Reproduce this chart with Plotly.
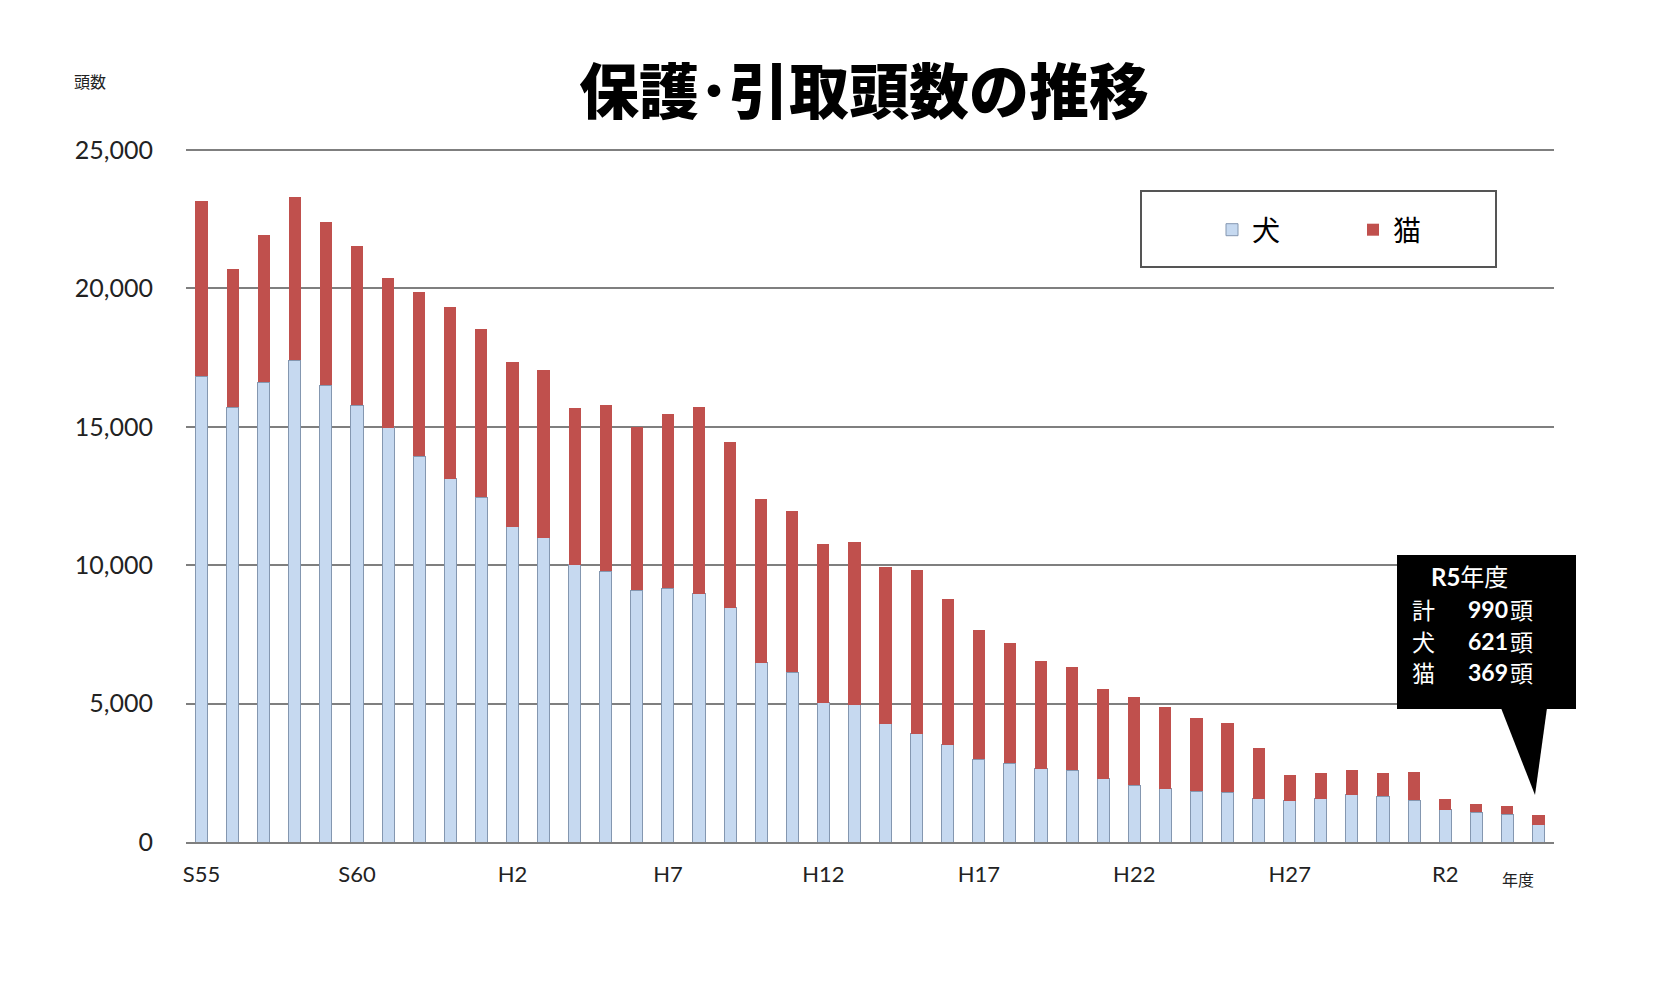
import plotly.graph_objects as go

# ---- data ----
years = ["S55", "S56", "S57", "S58", "S59", "S60", "S61", "S62", "S63",
         "H1", "H2", "H3", "H4", "H5", "H6", "H7", "H8", "H9", "H10",
         "H11", "H12", "H13", "H14", "H15", "H16", "H17", "H18", "H19", "H20",
         "H21", "H22", "H23", "H24", "H25", "H26", "H27", "H28", "H29", "H30",
         "R1", "R2", "R3", "R4", "R5"]
dogs = [16830, 15700, 16620, 17410, 16500, 15780, 14960, 13940, 13130,
        12460, 11390, 11000, 10010, 9780, 9090, 9160, 8975, 8460, 6470,
        6125, 5030, 4960, 4270, 3915, 3520, 2990, 2850, 2640, 2595,
        2285, 2045, 1925, 1840, 1800, 1570, 1485, 1570, 1715, 1650,
        1505, 1165, 1080, 1000, 621]
cats = [6340, 4990, 5310, 5890, 5920, 5760, 5430, 5950, 6200,
        6060, 5940, 6050, 5675, 6000, 5910, 6310, 6745, 5980, 5910,
        5840, 5735, 5895, 5650, 5915, 5255, 4685, 4330, 3915, 3745,
        3250, 3200, 2950, 2645, 2510, 1840, 920, 910, 870, 830,
        1025, 405, 305, 300, 369]
tick_years = ["S55", "S60", "H2", "H7", "H12", "H17", "H22", "H27", "R2"]
y_ticks = [0, 5000, 10000, 15000, 20000, 25000]
series_names = ["犬", "猫"]
title_text = "保護･引取頭数の推移"
y_unit = "頭数"
x_unit = "年度"

# ---- layout geometry (pixels) ----
W, H = 1661, 986
L, R, T, B = 186, 1554, 149, 842


def px(p):
    return (p - L) / (R - L)


def py(p):
    return (B - p) / (B - T)


CJK = "Noto Sans CJK JP"
NUM = "Lato, Noto Sans CJK JP"

fig = go.Figure()
fig.add_trace(go.Bar(
    x=years, y=dogs, name=series_names[0],
    marker=dict(color="#c6d9f0", line=dict(color="#8497b0", width=1)),
))
fig.add_trace(go.Bar(
    x=years, y=cats, name=series_names[1],
    marker=dict(color="#c0504d", line=dict(color="#c0504d", width=0)),
))

shapes = [
    # legend frame
    dict(type="rect", xref="paper", yref="paper",
         x0=px(1141), x1=px(1496), y0=py(267), y1=py(191),
         line=dict(color="#555555", width=2), fillcolor="rgba(0,0,0,0)"),
    # callout box
    dict(type="rect", xref="paper", yref="paper",
         x0=px(1397), x1=px(1576), y0=py(709), y1=py(555),
         line=dict(color="black", width=0), fillcolor="black"),
    # callout pointer
    dict(type="path", xref="paper", yref="paper",
         path=f"M {px(1501)},{py(708)} L {px(1547)},{py(708)} L {px(1535)},{py(795)} Z",
         line=dict(color="black", width=0), fillcolor="black"),
]

total_last = dogs[-1] + cats[-1]
rows = [("計", total_last), (series_names[0], dogs[-1]), (series_names[1], cats[-1])]
row_y = [609, 641, 672]

annotations = [
    dict(text=y_unit, xref="paper", yref="paper", x=px(72), y=py(81),
         xanchor="left", yanchor="middle", showarrow=False,
         font=dict(family=CJK, size=16, color="#222")),
    dict(text=x_unit, xref="paper", yref="paper", x=px(1518), y=py(879),
         xanchor="center", yanchor="middle", showarrow=False,
         font=dict(family=CJK, size=16, color="#222")),
    dict(text=f"<b>{years[-1]}</b>年度", xref="paper", yref="paper",
         x=px(1429), y=py(576), xanchor="left", yanchor="middle", showarrow=False,
         font=dict(family=NUM, size=24, color="white")),
]
for (lab, val), yy in zip(rows, row_y):
    annotations.append(dict(text=lab, xref="paper", yref="paper", x=px(1410), y=py(yy),
                            xanchor="left", yanchor="middle", showarrow=False,
                            font=dict(family=CJK, size=23, color="white")))
    annotations.append(dict(text=f"<b>{val:,}</b>", xref="paper", yref="paper",
                            x=px(1510), y=py(yy), xanchor="right", yanchor="middle",
                            showarrow=False, font=dict(family=NUM, size=23, color="white")))
    annotations.append(dict(text="頭", xref="paper", yref="paper", x=px(1508), y=py(yy),
                            xanchor="left", yanchor="middle", showarrow=False,
                            font=dict(family=CJK, size=23, color="white")))

fig.update_layout(
    width=W, height=H,
    margin=dict(l=L, r=W - R, t=T, b=H - B, pad=0),
    paper_bgcolor="white", plot_bgcolor="white",
    barmode="stack", bargap=0.61,
    title=dict(text=title_text, x=864 / W, y=1 - 93 / H, xref="container", yref="container",
               xanchor="center", yanchor="middle",
               font=dict(family=CJK, size=60, color="black", weight=900)),
    showlegend=True,
    legend=dict(orientation="h", x=px(1212), y=py(230), xanchor="left", yanchor="middle",
                bgcolor="rgba(0,0,0,0)", borderwidth=0, traceorder="normal",
                entrywidth=96, entrywidthmode="pixels",
                font=dict(family=CJK, size=28, color="black")),
    xaxis=dict(type="category", tickmode="array", tickvals=tick_years, ticktext=tick_years,
               showgrid=False, showline=True, linecolor="#7f7f7f", linewidth=2,
               ticks="", ticklabelstandoff=12,
               tickfont=dict(family=NUM, size=22, color="#222")),
    yaxis=dict(range=[0, 25040], tickmode="array", tickvals=y_ticks, tickformat=",",
               showgrid=True, gridcolor="#7f7f7f", gridwidth=1.5, zeroline=False,
               showline=False, ticks="", ticklabelstandoff=32,
               tickfont=dict(family=NUM, size=25, color="#222")),
    shapes=shapes, annotations=annotations,
)

fig.write_html("out.html")
